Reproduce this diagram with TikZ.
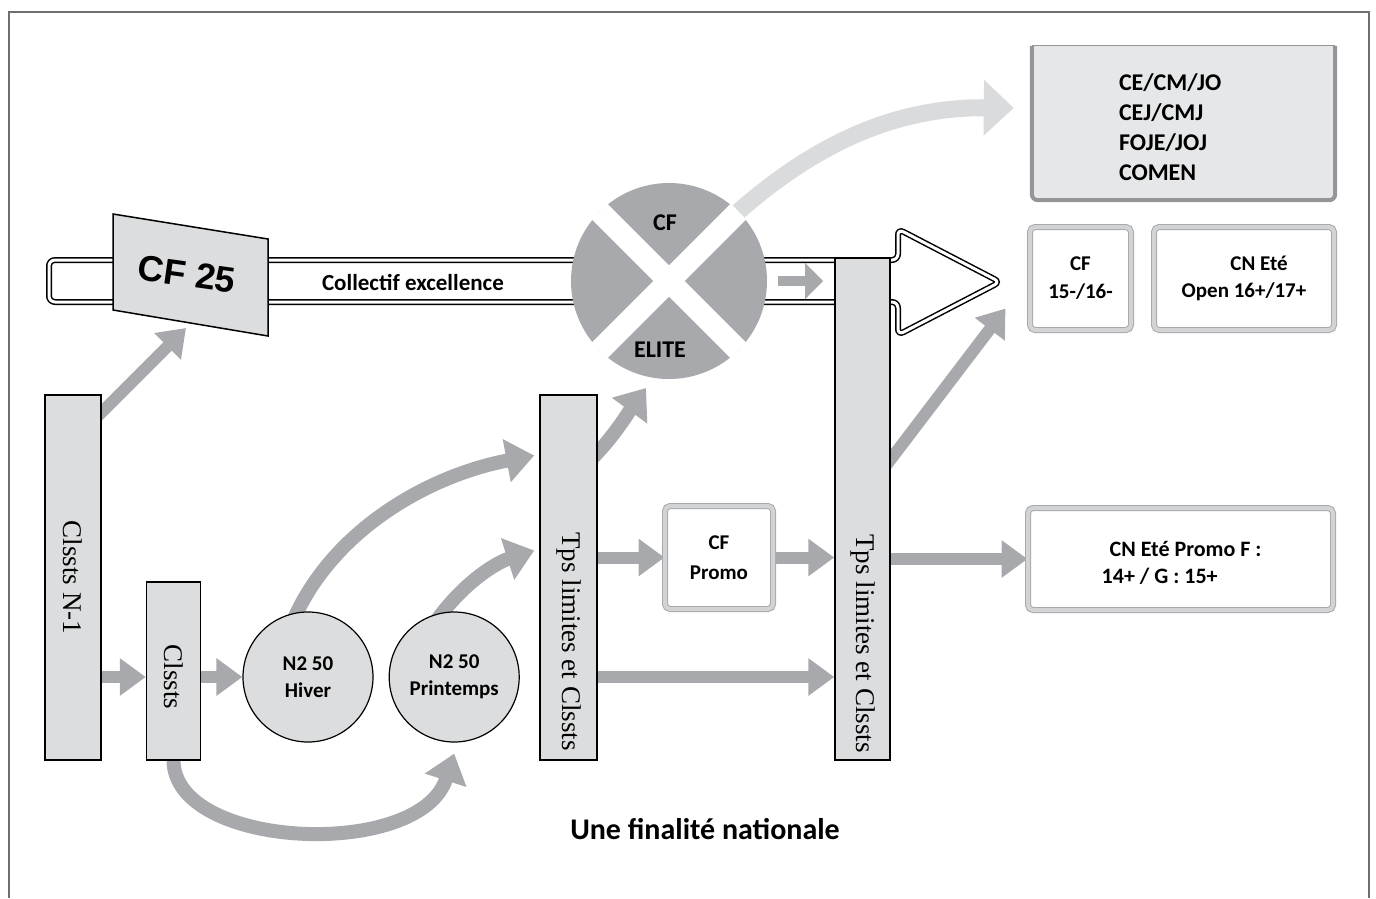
\documentclass[tikz,border=0pt]{standalone}
\usepackage{fontspec}
\setmainfont{Carlito}
\newfontfamily\timesfont{Liberation Serif}
\newfontfamily\arialfont{Liberation Sans}
\usetikzlibrary{arrows.meta,positioning}
\definecolor{arrowgray}{HTML}{A7A9AC}
\definecolor{boxgray}{HTML}{DCDDDE}
\definecolor{palegray}{HTML}{DADBDC}
\definecolor{topgray}{HTML}{E6E7E8}
\definecolor{edgegray}{HTML}{939598}
\definecolor{ringgray}{HTML}{D1D3D4}
\definecolor{framegray}{HTML}{6D6E71}
\pgfdeclarelayer{bg}
\pgfsetlayers{bg,main}

\begin{document}
\begin{tikzpicture}[x=1pt,y=-1pt]
\tikzstyle{every node}+=[inner sep=0pt]
\tikzstyle{colbox}=[draw=black, line width=1.5pt, fill=boxgray, minimum width=56pt]
\tikzstyle{vtext}=[rotate=-90, font=\timesfont\fontsize{27}{27}\selectfont]
\tikzstyle{lbl}=[align=center, font=\bfseries\fontsize{21}{27}\selectfont]
\tikzstyle{nball}=[circle, draw=black, line width=1.2pt, fill=boxgray, minimum size=130pt, lbl]
\tikzstyle{dbox}=[draw=arrowgray, double=ringgray, line width=1pt, double distance=4pt, rounded corners=5pt, fill=white, lbl]
\tikzstyle{garrow}=[draw=arrowgray, line width=12pt, -{Triangle[width=36pt,length=26pt]}]
\tikzstyle{carrow}=[draw=arrowgray, line width=14pt, -{Triangle[width=42pt,length=28pt]}]
\useasboundingbox (0,0) rectangle (1376,898);
\draw[framegray, line width=2pt] (9,898) -- (9,12) -- (1369,12) -- (1369,898);
\draw[line width=1.5pt, double distance=3pt, rounded corners=6pt] (49,302) -- (49,260) -- (898,260) -- (898,229) -- (1000,282) -- (898,335) -- (898,302) -- cycle;
\node[font=\bfseries\fontsize{23}{23}\selectfont] (collectif) at (413,282) {Collectif excellence};
\draw[line width=1.5pt, fill=boxgray] (113,214) -- (268,239) -- (268,336) -- (113,310) -- cycle;
\node[font=\arialfont\bfseries\fontsize{36}{36}\selectfont, rotate=-8] (cf25) at (187,274) {CF 25};
\node[circle, fill=arrowgray, minimum size=196pt] (elite) at (669,281) {};
\draw[white, line width=22pt] (elite.north west) -- (elite.south east) (elite.north east) -- (elite.south west);
\node[lbl, font=\bfseries\fontsize{24}{24}\selectfont] (cflab) at (665,223) {CF};
\node[lbl, font=\bfseries\fontsize{24}{24}\selectfont] (elitelab) at (660,350) {ELITE};
\node[colbox, minimum height=365pt] (cln1) at (73,577.5) {};
\node[vtext] (cln1lab) at (cln1) {Clssts N-1};
\node[colbox, minimum width=54pt, minimum height=178pt, anchor=south west] (cls) at ([xshift=44pt]cln1.south east) {};
\node[vtext] (clslab) at ([yshift=-6pt]cls.center) {Clssts};
\node[nball] (hiver) at (308,677) {N2 50\\Hiver};
\node[nball, right=15pt of hiver] (printemps) {N2 50\\Printemps};
\node[colbox, minimum width=57pt, minimum height=365pt] (tps1) at (568.5,577.5) {};
\node[vtext, anchor=east] (tps1lab) at ([yshift=10pt]tps1.south) {Tps limites et Clssts};
\node[colbox, minimum width=55pt, minimum height=502pt] (tps2) at (862.5,509) {};
\node[vtext, anchor=east] (tps2lab) at ([yshift=8pt]tps2.south) {Tps limites et Clssts};
\node[dbox, minimum width=108pt, minimum height=103pt, font=\bfseries\fontsize{21}{30}\selectfont] (cfp) at (719,557.5) {CF\\Promo};
\node[dbox, minimum width=101pt, minimum height=103pt, font=\bfseries\fontsize{21}{28}\selectfont] (cf16) at (1080.5,278.5) {CF\\15-/16-};
\node[dbox, minimum width=180pt, minimum height=103pt, right=22pt of cf16] (cnopen) {\hspace*{30pt}CN Et\'e\\Open 16+/17+};
\node[dbox, minimum width=305pt, minimum height=102pt] (cnp) at (1180.5,559) {};
\node[lbl, align=left, anchor=west, font=\bfseries\fontsize{22}{27}\selectfont] (cnplab) at ([xshift=74pt,yshift=-4pt]cnp.west) {\hspace*{8pt}CN Et\'e Promo F :\\14+ / G : 15+};
\node[fill=topgray, minimum width=303pt, minimum height=154pt] (topbox) at (1183.5,123) {};
\draw[edgegray, line width=4pt, rounded corners=6pt] (topbox.north west) -- (topbox.south west) -- (topbox.south east) -- (topbox.north east);
\draw[edgegray, line width=1pt] (topbox.north west) -- (topbox.north east);
\node[lbl, align=left, anchor=west, font=\bfseries\fontsize{24}{30}\selectfont] (toplab) at ([xshift=87pt,yshift=-4pt]topbox.west) {CE/CM/JO\\CEJ/CMJ\\FOJE/JOJ\\COMEN};
\node[font=\bfseries\fontsize{30}{30}\selectfont] (final) at (705,829) {Une finalit\'e nationale};
\coordinate (cfin) at (186,328);
\coordinate (elitein) at (646,388);
\begin{pgfonlayer}{bg}
\draw[garrow] (cln1.east |- hiver) -- (cls.west |- hiver);
\draw[garrow] (cls.east |- hiver) -- (hiver.west);
\draw[garrow] ([xshift=-15pt,yshift=-33pt]cln1.north east) -- (cfin);
\draw[carrow] (cls.south) .. controls (175,850) and (420,860) .. ([yshift=-11pt]printemps.south);
\draw[carrow] ([yshift=-12pt]hiver.105) .. controls (330,530) and (430,475) .. ([xshift=-5pt,yshift=122pt]tps1.west);
\draw[carrow] ([yshift=-12pt]printemps.110) .. controls (460,585) and (495,563) .. ([xshift=-5pt,yshift=27pt]tps1.west);
\draw[carrow] ([xshift=-10pt,yshift=115pt]tps1.east) .. controls (612,440) and (630,410) .. (elitein);
\draw[draw=palegray, line width=17pt, -{Triangle[width=54pt,length=30pt]}] (elite.45) .. controls (820,140) and (900,107) .. ([xshift=-18pt,yshift=15pt]topbox.west);
\draw[draw=arrowgray, line width=10pt, -{Triangle[width=35pt,length=18pt]}] ([xshift=11pt]elite.east) -- ([xshift=56pt]elite.east);
\draw[garrow] (tps1.east |- cfp) -- (cfp.west);
\draw[garrow] (cfp.east) -- (tps2.west |- cfp);
\draw[garrow] (tps1.east |- hiver) -- (tps2.west |- hiver);
\draw[garrow] (tps2.east |- cnp) -- (cnp.west);
\draw[garrow] ([xshift=-15pt,yshift=30pt]tps2.east) -- ([xshift=-24pt,yshift=22pt]cf16.south west);
\end{pgfonlayer}
\end{tikzpicture}
\end{document}
